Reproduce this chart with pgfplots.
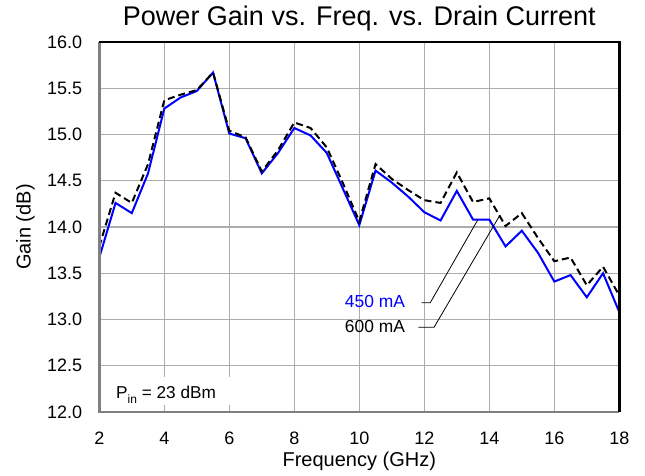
\documentclass[border=0pt]{standalone}
\usepackage{pgfplots}
\pgfplotsset{compat=1.18}
\usepackage{fontspec}
\setmainfont{Liberation Sans}
\definecolor{gridgray}{RGB}{172,172,172}
\definecolor{spinegray}{RGB}{128,128,128}
\definecolor{pblue}{RGB}{0,0,255}
\pgfplotstableread{
x y
2.0 13.67
2.5 14.26
3.0 14.15
3.5 14.58
4.0 15.28
4.5 15.40
5.0 15.47
5.5 15.67
6.0 15.01
6.5 14.96
7.0 14.58
7.5 14.80
8.0 15.07
8.5 14.99
9.0 14.80
9.5 14.41
10.0 14.02
10.5 14.61
11.0 14.48
11.5 14.33
12.0 14.16
12.5 14.07
13.0 14.39
13.5 14.08
14.0 14.08
14.5 13.79
15.0 13.96
15.5 13.72
16.0 13.41
16.5 13.48
17.0 13.24
17.5 13.50
18.0 13.08
}\tblA
\pgfplotstableread{
x y
2.0 13.79
2.5 14.37
3.0 14.26
3.5 14.68
4.0 15.37
4.5 15.43
5.0 15.48
5.5 15.67
6.0 15.04
6.5 14.97
7.0 14.60
7.5 14.83
8.0 15.13
8.5 15.07
9.0 14.86
9.5 14.47
10.0 14.06
10.5 14.68
11.0 14.52
11.5 14.40
12.0 14.29
12.5 14.26
13.0 14.59
13.5 14.27
14.0 14.31
14.5 14.01
15.0 14.15
15.5 13.88
16.0 13.63
16.5 13.67
17.0 13.37
17.5 13.57
18.0 13.26
}\tblB
\begin{document}
\begin{tikzpicture}
\begin{axis}[
  scale only axis, width=520pt, height=370pt,
  xmin=2, xmax=18, ymin=12, ymax=16,
  xtick={2,4,6,8,10,12,14,16,18},
  xticklabels={2,4,6,8,10,12,14,16,18},
  ytick={12,12.5,13,13.5,14,14.5,15,15.5,16},
  yticklabels={12.0,12.5,13.0,13.5,14.0,14.5,15.0,15.5,16.0},
  grid=major,
  major grid style={draw=gridgray, line width=1.3pt},
  tick style={draw=none}, major tick length=0pt,
  axis line style={draw=none},
  tick label style={font=\fontsize{18}{20}\selectfont, inner sep=0pt},
  xticklabel style={anchor=base, yshift=-33pt},
  yticklabel style={anchor=east, xshift=-17pt},
  title={Power Gain vs. Freq. vs. Drain Current},
  title style={at={(axis description cs:0.5,1)}, anchor=base, yshift=10pt, inner sep=0pt, font=\fontsize{27}{30}\selectfont},
  xlabel={Frequency (GHz)},
  xlabel style={at={(axis description cs:0.5,0)}, anchor=base, yshift=-54pt, inner sep=0pt, font=\fontsize{20}{24}\selectfont},
  ylabel={Gain (dB)},
  ylabel style={at={(axis description cs:-0.132,0.5)}, anchor=base, inner sep=0pt, font=\fontsize{20}{24}\selectfont},
  clip=false,
]
\fill[white] (axis cs:2.03,12.076) rectangle (axis cs:6.35,12.378);
\addplot[pblue, line width=2pt, no markers] table[x=x,y=y]{\tblA};
\addplot[black, line width=2pt, dash pattern=on 7pt off 4pt, no markers] table[x=x,y=y]{\tblB};
% leader lines
\draw[black, line width=0.8pt] (axis cs:11.92,13.18) -- (axis cs:12.18,13.18) -- (axis cs:13.65,14.08);
\draw[black, line width=0.8pt] (axis cs:11.82,12.916) -- (axis cs:12.30,12.916) -- (axis cs:14.33,14.13);
\node[anchor=east, inner sep=0pt, text=pblue, font=\fontsize{17.4}{20}\selectfont] at (axis cs:11.41,13.195) {450 mA};
\node[anchor=east, inner sep=0pt, font=\fontsize{17.4}{20}\selectfont] at (axis cs:11.41,12.925) {600 mA};
\node[anchor=base west, inner sep=0pt, font=\fontsize{17.2}{20}\selectfont] at (axis cs:2.514,12.141) {P\raisebox{-0.25em}{\fontsize{12}{12}\selectfont in} = 23 dBm};
% spines
\draw[spinegray, line width=2.5pt] (rel axis cs:0,1) -- (rel axis cs:0,0) -- (rel axis cs:1,0);
\draw[black, line width=2.5pt] (rel axis cs:0,1) -- (rel axis cs:1,1) -- (rel axis cs:1,0);
\coordinate (bl) at (rel axis cs:0,0);
\coordinate (tr) at (rel axis cs:1,1);
\end{axis}
\path ([xshift=-99.3pt,yshift=-64pt]bl) rectangle ([xshift=25.7pt,yshift=42pt]tr);
\end{tikzpicture}
\end{document}
